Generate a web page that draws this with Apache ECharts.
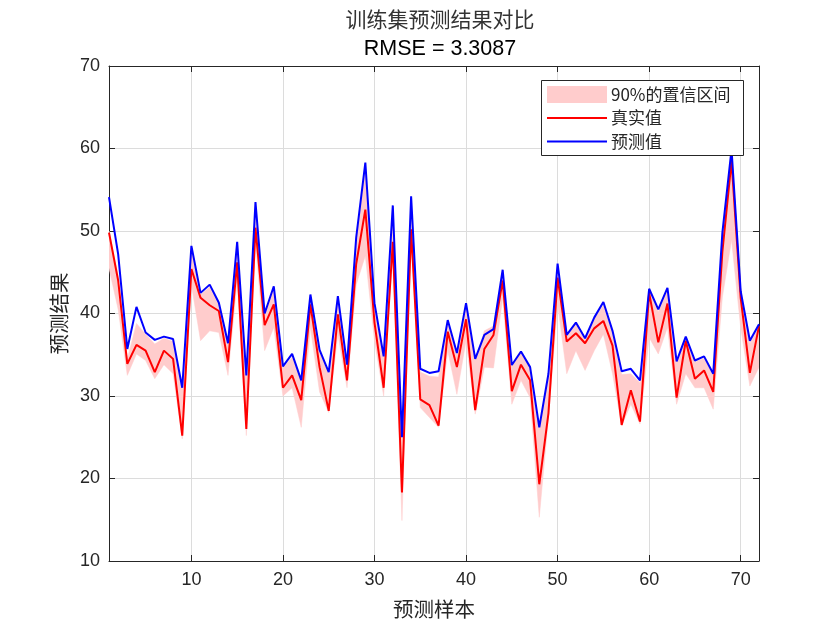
<!DOCTYPE html>
<html>
<head>
<meta charset="utf-8">
<script src="https://cdn.jsdelivr.net/npm/echarts@6/dist/echarts.min.js"></script>
<style>html,body{margin:0;padding:0;background:#fff;}#c{width:840px;height:630px;}</style>
</head>
<body>
<div id="c"></div>
<script>
// sample indices 1..72
const samples = Array.from({length: 72}, (_, i) => i + 1);
const trueValues = [49.8,44.0,33.9,36.2,35.5,32.9,35.5,34.5,25.2,45.4,41.9,41.0,40.3,34.1,46.2,26.0,50.4,38.6,41.1,31.0,32.5,29.5,41.1,33.5,28.2,39.9,31.9,46.0,52.6,38.9,31.0,48.7,18.3,50.2,29.6,28.9,26.4,37.8,33.5,39.3,28.3,35.7,37.4,44.0,30.6,33.8,31.9,19.3,27.9,44.35,36.6,37.6,36.4,38.2,39.1,36.1,26.5,30.7,26.9,42.5,36.5,41.2,29.8,36.7,32.1,33.1,30.5,47.5,58.5,41.9,32.8,38.5];
const predValues = [54.1,47.2,35.7,40.8,37.7,36.8,37.2,36.9,31.0,48.2,42.5,43.5,41.3,36.4,48.7,32.5,53.5,40.0,43.3,33.6,35.1,31.9,42.3,35.6,32.9,42.1,33.8,49.2,58.3,41.25,34.8,53.1,25.0,54.2,33.3,32.8,33.0,39.2,35.2,41.25,34.5,37.4,38.1,45.3,33.75,35.4,33.5,26.2,32.7,46.05,37.4,38.9,37.0,39.5,41.4,37.9,33.0,33.3,31.9,43.0,40.5,43.1,34.2,37.2,34.3,34.8,32.7,49.8,59.9,42.7,36.7,38.7];
const bandLower = [45.5,40.5,32.5,35.1,34.3,32.1,33.8,32.7,24.8,43.5,36.7,37.9,37.7,32.5,44.0,25.2,48.8,35.5,38.3,30.0,31.0,26.2,38.3,30.5,28.0,37.5,31.0,43.5,47.0,36.7,30.0,47.6,14.9,49.2,28.6,27.4,26.2,35.5,30.2,36.7,27.8,33.5,33.4,41.9,29.0,31.9,29.8,15.3,27.4,41.1,32.7,35.5,33.1,35.5,37.5,32.7,26.4,29.0,26.6,37.1,35.1,38.3,29.0,32.7,31.0,31.0,28.4,42.0,48.9,38.3,31.2,33.5];
const bandUpper = [50.0,44.5,34.5,38.8,37.5,36.3,37.0,36.6,30.8,47.8,42.3,43.2,41.1,36.3,48.4,32.5,53.0,39.8,43.2,33.4,34.7,31.8,42.0,35.3,32.7,41.8,34.0,48.8,57.5,41.0,34.6,52.7,25.4,53.8,32.9,32.4,32.3,38.9,35.0,41.0,34.3,37.9,38.5,45.0,33.6,35.2,33.3,26.0,32.5,45.8,37.2,38.7,36.8,39.3,41.0,37.6,32.6,32.7,31.6,42.7,40.2,42.8,34.0,37.0,34.1,34.6,32.5,49.4,59.3,42.5,36.4,38.4];
const xTicks = [10,20,30,40,50,60,70];
const titleText = '训练集预测结果对比';
const subText = 'RMSE = 3.3087';

const pair = arr => samples.map((x, i) => [x, arr[i]]);
const bandData = samples.map((x, i) => [x, bandLower[i], bandUpper[i]]);

const axisCol = '#262626';
const fontLatin = 'Arial, "Liberation Sans", Helvetica, sans-serif';
const fontCJK = '"Noto Sans CJK SC", sans-serif';

const chart = echarts.init(document.getElementById('c'), null, {renderer: 'canvas'});
const xBase = {
  type: 'value', min: 1, max: 72,
  axisLine: {show: true, lineStyle: {color: axisCol, width: 1}},
  axisTick: {show: true, inside: true, length: 6, lineStyle: {color: axisCol}, customValues: xTicks},
};
const yBase = {
  type: 'value', min: 10, max: 70, interval: 10,
  axisLine: {show: true, lineStyle: {color: axisCol, width: 1}},
  axisTick: {show: true, inside: true, length: 6, lineStyle: {color: axisCol}},
};

function renderBand(params, api) {
  if (params.dataIndex !== 0) return null;
  const upper = [], lower = [];
  for (let i = 0; i < bandData.length; i++) {
    upper.push(api.coord([bandData[i][0], bandData[i][2]]));
    lower.push(api.coord([bandData[i][0], bandData[i][1]]));
  }
  const pts = upper.concat(lower.reverse());
  return {
    type: 'polygon',
    shape: {points: pts},
    style: {fill: '#ffcccc', stroke: '#ffcccc', lineWidth: 0.5},
    silent: true
  };
}

chart.setOption({
  animation: false,
  backgroundColor: '#fff',
  title: [
    {text: titleText, left: 435, top: 4, textAlign: 'center',
     textStyle: {fontFamily: fontCJK, fontSize: 21, fontWeight: 'normal', color: '#333'}},
    {text: subText, left: 435, top: 33, textAlign: 'center',
     textStyle: {fontFamily: fontLatin, fontSize: 21.5, fontWeight: 'normal', color: '#000'}}
  ],
  grid: {left: 109, right: 81, top: 66, bottom: 69, containLabel: false},
  xAxis: [
    Object.assign({}, xBase, {
      position: 'bottom',
      name: '预测样本', nameLocation: 'middle', nameGap: 38,
      nameTextStyle: {fontFamily: fontCJK, fontSize: 20.5, color: axisCol},
      axisLabel: {show: true, customValues: xTicks, margin: 10, fontFamily: fontLatin, fontSize: 18, color: axisCol},
      splitLine: {show: true, lineStyle: {color: '#dcdcdc', width: 1}}
    }),
    Object.assign({}, xBase, {
      position: 'top',
      axisLabel: {show: false},
      splitLine: {show: false}
    })
  ],
  yAxis: [
    Object.assign({}, yBase, {
      position: 'left',
      name: '预测结果', nameLocation: 'middle', nameGap: 35,
      nameTextStyle: {fontFamily: fontCJK, fontSize: 20.5, color: axisCol},
      axisLabel: {show: true, margin: 9, fontFamily: fontLatin, fontSize: 18, color: axisCol},
      splitLine: {show: true, lineStyle: {color: '#dcdcdc', width: 1}}
    }),
    Object.assign({}, yBase, {
      position: 'right',
      axisLabel: {show: false},
      splitLine: {show: false}
    })
  ],
  legend: [
    {
      data: [{name: '90%的置信区间', icon: 'rect', itemStyle: {color: '#ffcccc'}}],
      left: 547, top: 86, orient: 'vertical',
      itemWidth: 60, itemHeight: 17, itemGap: 4, z: 10,
      textStyle: {fontFamily: fontCJK, fontSize: 17, color: '#262626', padding: [0,0,0,-1]},
      selectedMode: false, padding: 0
    },
    {
      data: [{name: '真实值', icon: 'rect'}, {name: '预测值', icon: 'rect'}],
      left: 547, top: 108, orient: 'vertical',
      itemWidth: 60, itemHeight: 2, itemGap: 3.5, z: 10,
      textStyle: {fontFamily: fontCJK, fontSize: 17, lineHeight: 20, color: '#262626', padding: [0,0,0,-1]},
      selectedMode: false, padding: 0
    }
  ],
  graphic: [{
    type: 'rect', z: 5, silent: true,
    shape: {x: 541.5, y: 80.5, width: 202, height: 75},
    style: {fill: '#fff', stroke: '#262626', lineWidth: 1}
  }],
  series: [
    {
      name: '90%的置信区间', type: 'custom', data: bandData,
      encode: {x: 0, y: [1, 2]},
      itemStyle: {color: '#ffcccc'},
      renderItem: renderBand, clip: true, silent: true, z: 1
    },
    {
      name: '真实值', type: 'line', data: pair(trueValues),
      showSymbol: false, symbol: 'none',
      itemStyle: {color: '#ff0000'}, lineStyle: {color: '#ff0000', width: 2}, z: 2
    },
    {
      name: '预测值', type: 'line', data: pair(predValues),
      showSymbol: false, symbol: 'none',
      itemStyle: {color: '#0000ff'}, lineStyle: {color: '#0000ff', width: 2}, z: 3
    }
  ]
});
</script>
</body>
</html>
